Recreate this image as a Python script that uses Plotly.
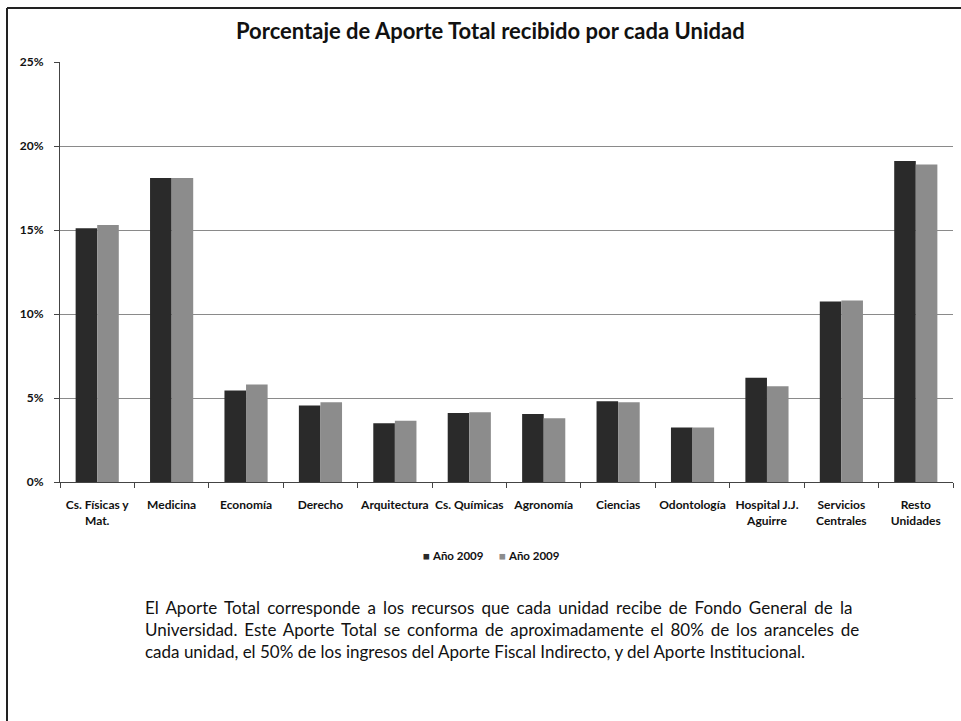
import plotly.graph_objects as go

# Units and their share (%) of the total contribution
unidades = [
    "Cs. Físicas y<br>Mat.", "Medicina", "Economía", "Derecho", "Arquitectura",
    "Cs. Químicas", "Agronomía", "Ciencias", "Odontología",
    "Hospital J.J.<br>Aguirre", "Servicios<br>Centrales", "Resto<br>Unidades",
]
serie_1 = [15.1, 18.1, 5.45, 4.55, 3.5, 4.1, 4.05, 4.8, 3.25, 6.2, 10.75, 19.1]
serie_2 = [15.3, 18.1, 5.8, 4.75, 3.65, 4.15, 3.8, 4.75, 3.25, 5.7, 10.8, 18.9]
nombres = ["Año 2009", "Año 2009"]
colores = ["#2a2a2a", "#8c8c8c"]
y_ticks = [0, 5, 10, 15, 20, 25]

titulo = "Porcentaje de Aporte Total recibido por cada Unidad"
nota = [
    "El Aporte Total corresponde a los recursos que cada unidad recibe de Fondo General de la",
    "Universidad. Este Aporte Total se conforma de aproximadamente el 80% de los aranceles de",
    "cada unidad, el 50% de los ingresos del Aporte Fiscal Indirecto, y del Aporte Institucional.",
]
# extra spacing between words so the first two lines fill the text block
espaciado = [2.85, 2.55, 0]

W, H = 961, 721
L, R, T, B = 60, 8, 62, 239
PW, PH = W - L - R, H - T - B


def px(x):
    return (x - L) / PW


def py(y):
    return (H - B - y) / PH


FONT = "Lato"

fig = go.Figure()
for vals, nombre, color in zip([serie_1, serie_2], nombres, colores):
    fig.add_trace(go.Bar(x=unidades, y=vals, name=nombre, showlegend=False,
                         marker=dict(color=color, line=dict(width=0))))

annotations = [
    dict(text="<b>" + titulo + "</b>", x=px(490), y=py(30), xref="paper", yref="paper",
         xanchor="center", yanchor="middle", showarrow=False,
         font=dict(family=FONT, size=22, color="#111")),
]
# legend entries: small square swatch followed by the series name
for i, (nombre, color) in enumerate(zip(nombres, colores)):
    annotations.append(dict(
        text=f"<span style='color:{color}'>■</span> <b>{nombre}</b>",
        x=px(421 + 76 * i), y=py(555), xref="paper", yref="paper",
        xanchor="left", yanchor="middle", showarrow=False,
        font=dict(family=FONT, size=11.5, color="#111")))
for i, linea in enumerate(nota):
    texto = linea
    if espaciado[i]:
        texto = f"<span style='word-spacing:{espaciado[i]}px'>{linea}</span>"
    annotations.append(dict(text=texto, x=px(143), y=py(607 + 22 * i), xref="paper",
                            yref="paper", xanchor="left", yanchor="middle", showarrow=False,
                            font=dict(family=FONT, size=17, color="#111")))

shapes = [
    dict(type="line", xref="paper", yref="paper", x0=px(7), x1=px(961), y0=py(8), y1=py(8),
         line=dict(color="#222", width=2)),
    dict(type="line", xref="paper", yref="paper", x0=px(7), x1=px(7), y0=py(8), y1=py(721),
         line=dict(color="#222", width=2)),
]

fig.update_layout(
    width=W, height=H,
    margin=dict(l=L, r=R, t=T, b=B),
    paper_bgcolor="white", plot_bgcolor="white",
    barmode="group", bargap=0.42, bargroupgap=0,
    font=dict(family=FONT, color="#111"),
    showlegend=False,
    annotations=annotations,
    shapes=shapes,
)
fig.update_xaxes(
    showline=True, linecolor="#444", linewidth=1, ticks="outside", tickson="boundaries",
    ticklen=5, tickcolor="#444", showgrid=False, tickangle=0, ticklabelstandoff=12,
    tickfont=dict(family=FONT, size=12, weight="bold"),
)
fig.update_yaxes(
    range=[0, 25], tickvals=y_ticks, ticktext=[f"{v}%" for v in y_ticks],
    showline=True, linecolor="#444", linewidth=1, ticks="outside", ticklen=5,
    tickcolor="#444", showgrid=True, gridcolor="#8a8a8a", gridwidth=1,
    ticklabelstandoff=8,
    tickfont=dict(family=FONT, size=12, weight="bold"), zeroline=False,
)

fig.write_html("out.html")
